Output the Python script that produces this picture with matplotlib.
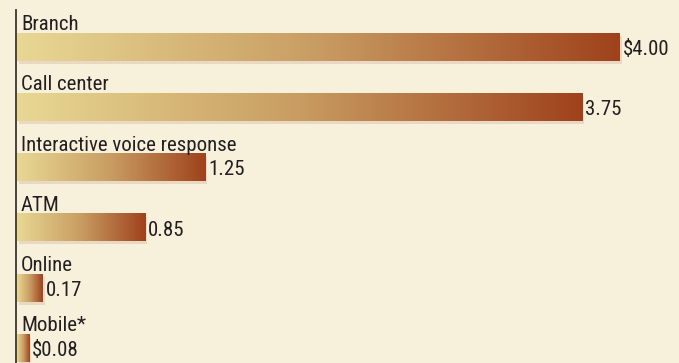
import numpy as np
import matplotlib.pyplot as plt
from matplotlib import font_manager
from matplotlib.colors import LinearSegmentedColormap
from matplotlib.patches import Rectangle

# ===== Datos =====
canales = ['Branch', 'Call center', 'Interactive voice response', 'ATM', 'Online', 'Mobile*']
costos = [4.00, 3.75, 1.25, 0.85, 0.17, 0.08]
etiquetas = ['$4.00', '3.75', '1.25', '0.85', '0.17', '$0.08']

fondo = '#f7f1dc'
cmap = LinearSegmentedColormap.from_list('cobre', ['#e8d893', '#c89c62', '#9f421c'])

# fuente estrecha: la primera que exista
nombres = {f.name for f in font_manager.fontManager.ttflist}
estilo = dict(family='DejaVu Sans', fontstretch='condensed', fontsize=14)
for fam in ['Roboto Condensed', 'Archivo Narrow', 'PT Sans Narrow', 'Liberation Sans Narrow']:
    if fam in nombres:
        estilo = dict(family=fam, fontsize=15)
        break

W, H = 679, 363
fig = plt.figure(figsize=(W / 100, H / 100), dpi=100, facecolor=fondo)
ax = fig.add_axes([0, 0, 1, 1])
ax.set_facecolor(fondo)

# escala: 0 en px 17, 4.00 en px 620
px_u = (620 - 17) / 4.0
ax.axis('off')

grad = np.linspace(0, 1, 256).reshape(1, -1)
alto = 27.5
for i, (c, v, e) in enumerate(zip(canales, costos, etiquetas)):
    yc = 47 + 60.2 * i
    y0, y1 = yc - alto / 2, yc + alto / 2
    # sombra
    ax.add_patch(Rectangle((2 / px_u, y0 + 3), v, alto, color='#e9d9c4', lw=0, zorder=1))
    ax.imshow(grad, cmap=cmap, extent=(0, v, y1, y0), aspect='auto', zorder=2,
              interpolation='bilinear')
    ax.text(4 / px_u, y0 - 3, c, color='#231f20', va='baseline', ha='left', zorder=3, **estilo)
    ax.text(v + 3 / px_u, yc + 8, e, color='#231f20', va='baseline', ha='left', zorder=3, **estilo)

ax.set_xlim(-17 / px_u, (W - 17) / px_u)
ax.set_ylim(H, 0)
ax.plot([-1.5 / px_u, -1.5 / px_u], [10, H], color='#3a3533', lw=1.3, zorder=4)

fig.savefig('out.png', dpi=100, facecolor=fondo)
